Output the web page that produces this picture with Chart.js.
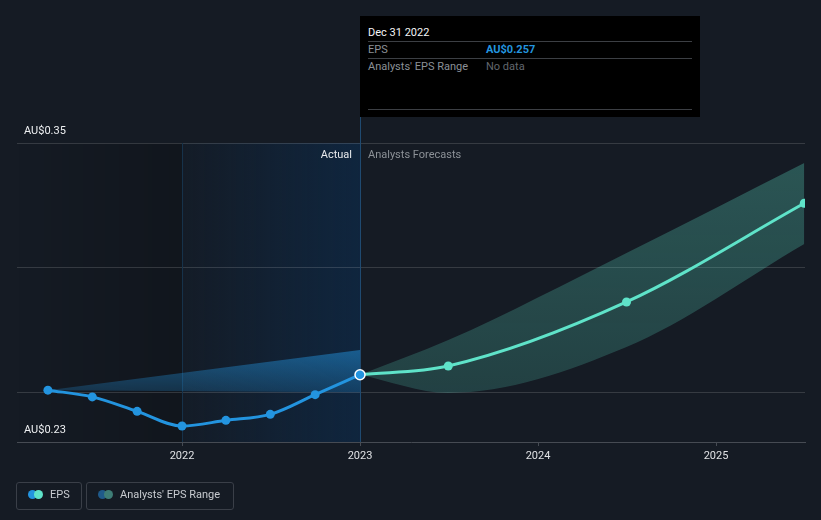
<!DOCTYPE html>
<html><head><meta charset="utf-8">
<script src="https://cdn.jsdelivr.net/npm/chart.js@4.4.1/dist/chart.umd.min.js"></script>
<style>
html,body{margin:0;padding:0;background:#151b24;}
#wrap{position:relative;width:821px;height:520px;font-family:Roboto,"Noto Sans",sans-serif;overflow:hidden;}
#c{position:absolute;left:0;top:0;}
#tip{position:absolute;left:360px;top:16px;width:340px;height:101px;background:#000;font-size:11px;}
#tip .t{position:absolute;left:8px;top:10px;line-height:14px;color:#f4f5f6;}
#tip .l{position:absolute;left:8px;width:324px;height:1px;background:#3c3f44;}
#tip .k{position:absolute;left:8px;line-height:14px;color:#8b9097;}
#tip .v{position:absolute;left:126px;line-height:14px;}
.leg{position:absolute;top:482px;height:28px;box-sizing:border-box;border:1px solid #3a3f48;border-radius:3px;font-size:11px;color:#c8cbd0;}
.leg .d{position:absolute;top:7px;width:9px;height:9px;border-radius:50%;}
.leg span.x{position:absolute;top:5px;line-height:14px;}
</style></head>
<body><div id="wrap">
<canvas id="c" width="821" height="520"></canvas>
<div id="tip">
  <div class="t">Dec 31 2022</div>
  <div class="l" style="top:25px"></div>
  <div class="k" style="top:27px">EPS</div><div class="v" style="top:27px;color:#2394df;font-weight:700">AU$0.257</div>
  <div class="l" style="top:42px"></div>
  <div class="k" style="top:44px">Analysts' EPS Range</div><div class="v" style="top:44px;color:#62676e">No data</div>
  <div class="l" style="top:93px"></div>
</div>
<div class="leg" style="left:16px;width:66px">
  <div class="d" style="left:11px;background:#2394df"></div><div class="d" style="left:17px;background:#5fe3c9"></div>
  <span class="x" style="left:33px">EPS</span>
</div>
<div class="leg" style="left:86px;width:148px">
  <div class="d" style="left:11px;background:#1f5a8a"></div><div class="d" style="left:17px;background:#3e7d76"></div>
  <span class="x" style="left:33px">Analysts' EPS Range</span>
</div>
</div>
<script>
// ---- data ----
const actualDates = ["2021-03-31","2021-06-30","2021-09-30","2021-12-31","2022-03-31","2022-06-30","2022-09-30","2022-12-31"];
const actualEps = [0.2508,0.2481,0.2423,0.2364,0.2387,0.2411,0.2490,0.2570];
const forecastDates = ["2022-12-31","2023-06-30","2024-06-30","2025-06-30"];
const forecastEps = [0.2570,0.2605,0.2862,0.3258];
const rangeHigh = [0.2570,0.2709,0.3059,0.3420];
const rangeLow = [0.2570,0.2497,0.2681,0.3095];
const pastBandDates = ["2021-03-31","2022-12-31"];
const pastBandHigh = [0.2508,0.2669];
const pastBandLow = [0.2508,0.2500];
const yearTicks = [2022,2023,2024,2025];
const yGridValues = [0.23,0.25,0.30,0.35];
const yLabelValues = [0.23,0.35];
const yLabelTexts = ["AU$0.23","AU$0.35"];
const actualRegionStart = 2022, actualRegionEnd = 2023;
const xMin = 2021.073, xMax = 2025.5, yMin = 0.23, yMax = 0.35;

function toYear(s){
  const [y,m,d] = s.split("-").map(Number);
  const start = Date.UTC(y,0,1), end = Date.UTC(y+1,0,1);
  const day = (Date.UTC(y,m-1,d) - start)/86400000 + 1;
  return y + day/((end-start)/86400000);
}
const pts = (dates, vals) => dates.map((d,i)=>({x:toYear(d), y:vals[i]}));

const BLUE = '#2394df', TEAL = '#5fe3c9';
const FONT = 'Roboto, "Noto Sans", sans-serif';

const deco = {
  id:'deco',
  beforeDraw(chart){
    const {ctx, chartArea:a, scales:{x}} = chart;
    const x1 = x.getPixelForValue(actualRegionStart), x2 = x.getPixelForValue(actualRegionEnd);
    ctx.save();
    let g = ctx.createLinearGradient(a.left,0,x1,0);
    g.addColorStop(0,'rgba(0,0,0,0.0)'); g.addColorStop(1,'rgba(0,0,0,0.18)');
    ctx.fillStyle = g; ctx.fillRect(a.left,a.top,x1-a.left,a.bottom-a.top);
    g = ctx.createLinearGradient(x1,0,x2,0);
    g.addColorStop(0,'rgba(12,45,80,0.08)'); g.addColorStop(1,'rgba(12,45,80,0.6)');
    ctx.fillStyle = g; ctx.fillRect(x1,a.top,x2-x1,a.bottom-a.top);
    ctx.restore();
  },
  beforeDatasetsDraw(chart){
    const {ctx, chartArea:a, scales:{x}} = chart;
    const x1 = Math.round(x.getPixelForValue(actualRegionStart))+0.5, x2 = Math.round(x.getPixelForValue(actualRegionEnd))+0.5;
    ctx.save();
    ctx.lineWidth = 1;
    ctx.strokeStyle = '#16324a';
    ctx.beginPath(); ctx.moveTo(x1,a.top); ctx.lineTo(x1,a.bottom); ctx.stroke();
    ctx.strokeStyle = '#1f4a70';
    ctx.beginPath(); ctx.moveTo(x2,117); ctx.lineTo(x2,a.bottom); ctx.stroke();
    ctx.restore();
  },
  afterDatasetsDraw(chart){
    const {ctx, chartArea:a, scales:{x,y}} = chart;
    const x2 = x.getPixelForValue(actualRegionEnd);
    ctx.save();
    ctx.font = '11px ' + FONT;
    ctx.textBaseline = 'middle';
    ctx.textAlign = 'right'; ctx.fillStyle = '#e8eaed';
    ctx.fillText('Actual', x2-8, a.top+12);
    ctx.textAlign = 'left'; ctx.fillStyle = '#8c9197';
    ctx.fillText('Analysts Forecasts', x2+8, a.top+12);
    ctx.fillStyle = '#eef0f2';
    yLabelValues.forEach((v,i)=>{ ctx.fillText(yLabelTexts[i], a.left+7, y.getPixelForValue(v)-12); });
    ctx.restore();
  }
};

new Chart(document.getElementById('c'), {
  type:'line',
  data:{ datasets:[
    { label:'EPS', data:pts(actualDates, actualEps), borderColor:BLUE, backgroundColor:BLUE, borderWidth:3,
      pointRadius:actualDates.map((d,i)=> i===actualDates.length-1?5:4.5),
      pointBorderColor:actualDates.map((d,i)=> i===actualDates.length-1?'#ffffff':BLUE),
      pointBorderWidth:actualDates.map((d,i)=> i===actualDates.length-1?1.5:0),
      pointBackgroundColor:BLUE, cubicInterpolationMode:'monotone', fill:false, order:0 },
    { label:'EPS forecast', data:pts(forecastDates, forecastEps), borderColor:TEAL, backgroundColor:TEAL, borderWidth:3,
      pointRadius:forecastDates.map((d,i)=> i===0?0:4.5), pointBorderWidth:0, pointBackgroundColor:TEAL,
      cubicInterpolationMode:'monotone', fill:false, order:1 },
    { label:'Range high', data:pts(forecastDates, rangeHigh), borderWidth:0, pointRadius:0, cubicInterpolationMode:'monotone',
      fill:'+1', order:2,
      backgroundColor:(c)=>{ const a=c.chart.chartArea; if(!a) return 'rgba(95,227,201,0.25)';
        const g=c.chart.ctx.createLinearGradient(0,a.top,0,a.bottom); g.addColorStop(0,'rgba(95,227,201,0.3)'); g.addColorStop(1,'rgba(95,227,201,0.17)'); return g; } },
    { label:'Range low', data:pts(forecastDates, rangeLow), borderWidth:0, pointRadius:0, cubicInterpolationMode:'monotone', fill:false, order:3 },
    { label:'Past high', data:pts(pastBandDates, pastBandHigh), borderWidth:0, pointRadius:0, fill:'+1', order:4,
      backgroundColor:(c)=>{ const ch=c.chart; const a=ch.chartArea; if(!a) return 'rgba(35,148,223,0.4)';
        const y=ch.scales.y; const g=ch.ctx.createLinearGradient(0,y.getPixelForValue(0.267),0,y.getPixelForValue(0.25));
        g.addColorStop(0,'rgba(35,148,223,0.5)'); g.addColorStop(1,'rgba(35,148,223,0.22)'); return g; } },
    { label:'Past low', data:pts(pastBandDates, pastBandLow), borderWidth:0, pointRadius:0, fill:false, order:5 }
  ]},
  options:{
    responsive:false, animation:false, devicePixelRatio:1,
    layout:{ padding:{ left:17, right:16, top:143, bottom:48 } },
    plugins:{ legend:{display:false}, tooltip:{enabled:false} },
    events:[],
    scales:{
      x:{ type:'linear', min:xMin, max:xMax,
        afterBuildTicks:(s)=>{ s.ticks = yearTicks.map(v=>({value:v})); },
        afterFit:(s)=>{ s.height = 30; },
        border:{ color:'#464b53', width:1 },
        grid:{ drawOnChartArea:false, drawTicks:true, tickLength:4, color:'#464b53' },
        ticks:{ color:'#dfe1e4', font:{ family:'Roboto', size:11 }, padding:4, maxRotation:0, callback:(v)=>String(v) } },
      y:{ type:'linear', min:yMin, max:yMax,
        afterBuildTicks:(s)=>{ s.ticks = yGridValues.map(v=>({value:v})); },
        afterFit:(s)=>{ s.width = 0; },
        border:{ display:false },
        grid:{ drawTicks:false, color:(c)=> c.tick && c.tick.value===yMin ? 'rgba(0,0,0,0)' : 'rgba(255,255,255,0.14)' },
        ticks:{ display:false } }
    }
  },
  plugins:[deco]
});
</script>
</body></html>
